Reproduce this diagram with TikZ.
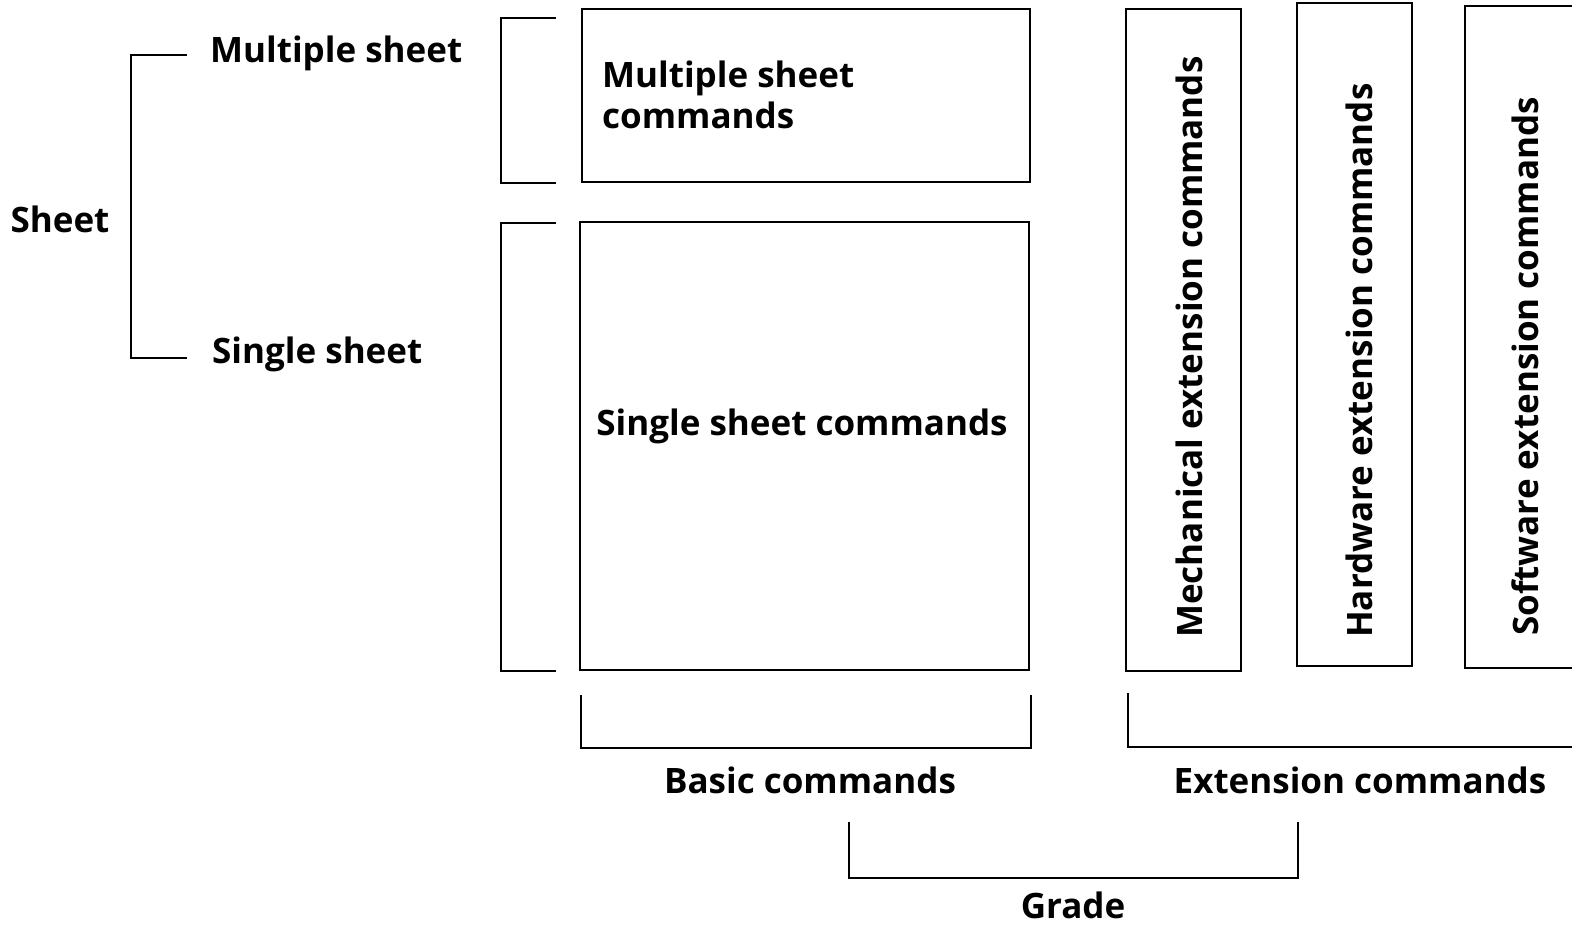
\documentclass[tikz,border=0pt]{standalone}
\usepackage{fontspec}
\setmainfont{Open Sans}
\usetikzlibrary{positioning}

\begin{document}
\begin{tikzpicture}[x=1pt,y=-1pt,
  box/.style={draw, line width=2pt, inner sep=0pt},
  lbl/.style={font=\fontsize{35}{41}\selectfont\bfseries, inner sep=0pt},
  brace/.style={line width=2pt}]
  \useasboundingbox (0,0) rectangle (1572,929);
  % sheet levels
  \node [lbl, anchor=base] (sheet) at (60,232) {Sheet};
  \node [lbl, anchor=base west] (multi) at (210,62) {Multiple sheet};
  \node [lbl, anchor=base west] (single) at (212,363) {Single sheet};
  \coordinate (sheetA) at (187,55);
  \coordinate (sheetB) at (187,358);
  \draw [brace] (sheetA) -- (131,55) -- (131,358) -- (sheetB);
  % basic command boxes
  \node [box, minimum width=448pt, minimum height=173pt] (multibox) at (806,95.5) {};
  \node [lbl, anchor=base west, align=left] (multicmd) at (602,128) {Multiple sheet\\commands};
  \node [box, minimum width=449pt, minimum height=448pt] (singlebox) at (804.5,446) {};
  \node [lbl, anchor=base] (singlecmd) at (802,435) {Single sheet commands};
  \draw [brace] (556,18) -| (501,183) -- (556,183);
  \draw [brace] (556,223) -| (501,671) -- (556,671);
  % extension command boxes
  \node [box, minimum width=115pt, minimum height=662pt] (mechbox) at (1183.5,340) {};
  \node [lbl, rotate=90, anchor=base west] (mechcmd) at (1202,638) {Mechanical extension commands};
  \node [box, minimum width=115pt, minimum height=663pt] (hardbox) at (1354.5,334.5) {};
  \node [lbl, rotate=90, anchor=base west] (hardcmd) at (1372,638) {Hardware extension commands};
  \node [box, minimum width=115pt, minimum height=662pt] (softbox) at (1522.5,337) {};
  \node [lbl, rotate=90, anchor=base west] (softcmd) at (1538,636) {Software extension commands};
  % groups
  \draw [brace] (581,695) |- (1031,748) -- (1031,695);
  \node [lbl, anchor=base] (basic) at (810,793) {Basic commands};
  \draw [brace] (1128,693) |- (1600,747);
  \node [lbl, anchor=base] (ext) at (1360,793) {Extension commands};
  \draw [brace] (849,822) |- (1298,878) -- (1298,822);
  \node [lbl, anchor=base] (grade) at (1073,918) {Grade};
\end{tikzpicture}
\end{document}
